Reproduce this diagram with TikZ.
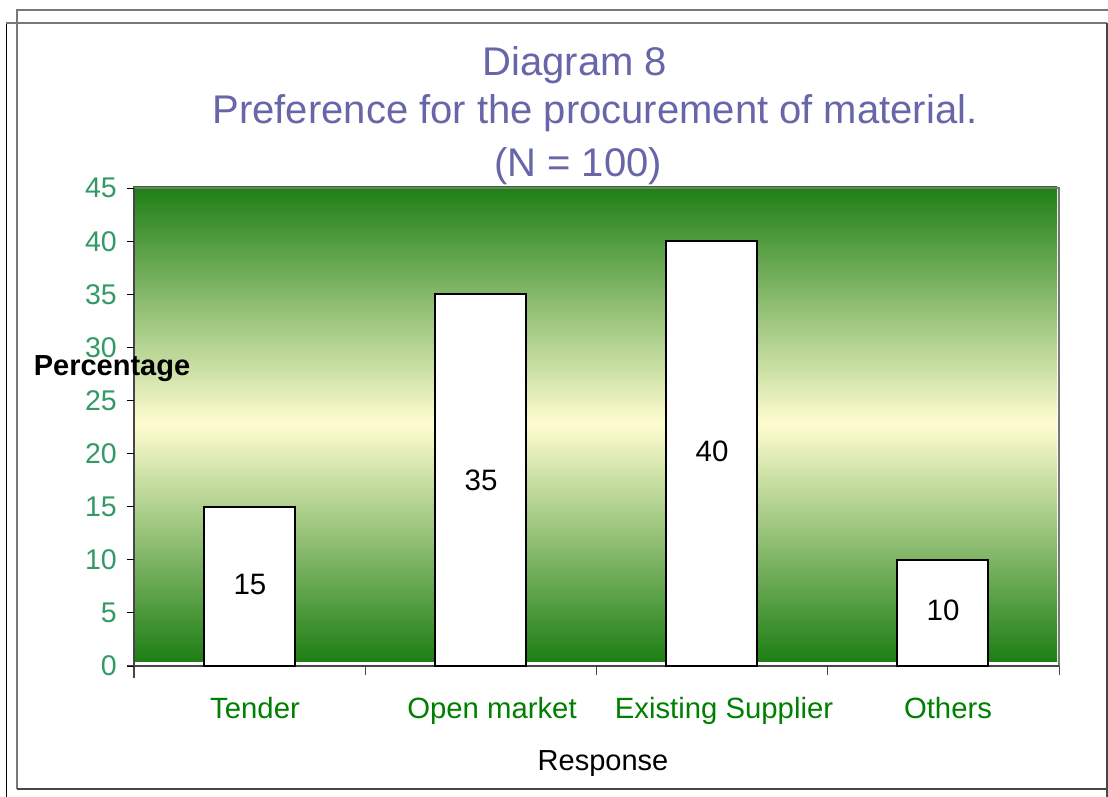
\documentclass[tikz,border=0pt]{standalone}
\usepackage{fontspec}
\setmainfont{Liberation Sans}
\definecolor{titlecol}{RGB}{102,102,168}
\definecolor{tickcol}{RGB}{51,153,102}
\definecolor{catcol}{RGB}{0,128,0}
\definecolor{gdark}{RGB}{30,126,20}
\definecolor{glight}{RGB}{255,253,208}
\definecolor{framegray}{RGB}{120,120,120}
\definecolor{axisgray}{RGB}{70,70,70}
\tikzset{
  ticklab/.style={anchor=east, text=tickcol, font=\fontsize{28.5}{33}\selectfont, inner sep=0pt},
  catlab/.style={anchor=base, text=catcol, font=\fontsize{29.3}{34}\selectfont, inner sep=0pt},
  vallab/.style={anchor=base, font=\fontsize{29.5}{34}\selectfont, inner sep=0pt},
  axlab/.style={anchor=base, font=\fontsize{29}{34}\selectfont, inner sep=0pt},
  bar/.style={draw=black, line width=2pt, fill=white},
  titlelab/.style={anchor=base, text=titlecol, font=\fontsize{40}{48}\selectfont, inner sep=0pt},
}
\begin{document}
\begin{tikzpicture}[x=1pt,y=-1pt]
\useasboundingbox (0,0) rectangle (1108,797);
\fill[white] (0,0) rectangle (1108,797);
% frames
\draw[framegray, line width=1.5pt] (17,789) -- (17,10) -- (1110,10);
\draw[black, line width=1pt] (6,797) -- (6,23);
\draw[framegray, line width=1.5pt] (6,23) -- (1107,23);
\draw[axisgray, line width=1.5pt] (1107,23) -- (1107,797);
\draw[axisgray, line width=1.5pt] (17,789) -- (1108,789);
% title
\node[titlelab] (t1) at (575,76) {Diagram 8};
\node[titlelab] (t2) at (595,124) {Preference for the procurement of material.};
\node[titlelab] (t3) at (578,176) {(N = 100)};
% plot area gradient
\shade[top color=gdark, bottom color=gdark, middle color=glight] (133,186) rectangle (1057,661);
\draw[framegray, line width=2pt] (134,188) -- (1059,188) -- (1059,666);
% axes
\draw[axisgray, line width=1.5pt] (134,188) -- (134,678);
\draw[axisgray, line width=1.5pt] (127,666) -- (1059,666);
\foreach \v in {0,5,...,45} {
  \draw[black, line width=1pt] (127,{666-10.62*\v}) -- (134,{666-10.62*\v});
  \node[ticklab] at (117,{666-10.62*\v}) {\v};
}
\foreach \i in {0,1,2,3,4} {
  \draw[axisgray, line width=1pt] ({134+231.25*\i},666) -- ({134+231.25*\i},675);
}
% bars
\draw[bar] (204,{666-10.62*15}) rectangle (295,666);
\draw[bar] (435,{666-10.62*35}) rectangle (526,666);
\draw[bar] (666,{666-10.62*40}) rectangle (757,666);
\draw[bar] (897,{666-10.62*10}) rectangle (988,666);
\node[vallab] (v1) at (250,594) {15};
\node[vallab] (v2) at (481,490) {35};
\node[vallab] (v3) at (712,461) {40};
\node[vallab] (v4) at (943,620) {10};
% category labels
\node[catlab] (c1) at (255,718) {Tender};
\node[catlab] (c2) at (492,718) {Open market};
\node[catlab] (c3) at (724,718) {Existing Supplier};
\node[catlab] (c4) at (948,718) {Others};
\node[axlab] (xl) at (603,770) {Response};
\node[axlab, font=\fontsize{29}{34}\selectfont\bfseries] (yl) at (112,375) {Percentage};
\end{tikzpicture}
\end{document}
